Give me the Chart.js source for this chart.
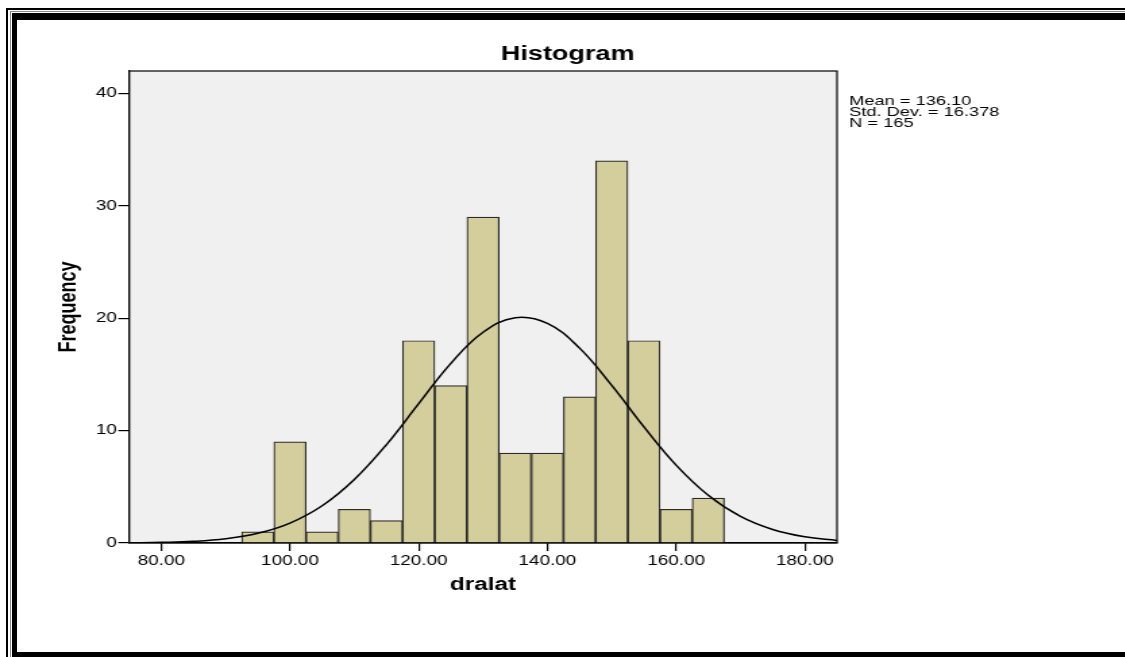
<!DOCTYPE html>
<html>
<head>
<meta charset="utf-8">
<script src="https://cdn.jsdelivr.net/npm/chart.js@4"></script>
<style>
  body { margin: 0; background: #fff; }
  #wrap { position: relative; width: 1125px; height: 657px; overflow: hidden; }
  #myChart { position: absolute; left: 0; top: 0; transform: scaleX(1.35); transform-origin: 0 0; }
  .ln { position: absolute; background: #000; }
</style>
</head>
<body>
<div id="wrap">
  <canvas id="myChart" width="833" height="657"></canvas>
  <div class="ln" style="left:6px;top:8px;width:1119px;height:2px"></div>
  <div class="ln" style="left:6px;top:8px;width:2px;height:649px"></div>
  <div class="ln" style="left:10px;top:11px;width:1115px;height:1px;background:#888"></div>
  <div class="ln" style="left:10px;top:11px;width:1px;height:646px;background:#888"></div>
  <div class="ln" style="left:12px;top:13px;width:1113px;height:7px"></div>
  <div class="ln" style="left:12px;top:13px;width:5px;height:644px"></div>
  <div class="ln" style="left:12px;top:652px;width:1113px;height:5px"></div>
</div>
<script>
// histogram bins (centres) and frequencies
let binX = [95, 100, 105, 110, 115, 120, 125, 130, 135, 140, 145, 150, 155, 160, 165];
let freq = [1, 9, 1, 3, 2, 18, 14, 29, 8, 8, 13, 34, 18, 3, 4];

// normal curve
let curveX = [75, 80, 85, 90, 95, 100, 105, 110, 115, 120, 125, 130, 135, 140, 145, 150, 155, 160, 165, 170, 175, 180, 185];
let curveY = [0.02, 0.06, 0.15, 0.38, 0.86, 1.77, 3.31, 5.65, 8.76, 12.4, 15.98, 18.75, 20.05, 19.54, 17.34, 14.02, 10.33, 6.93, 4.24, 2.36, 1.2, 0.55, 0.23];

let xTicks = [80, 100, 120, 140, 160, 180];
let yTicks = [0, 10, 20, 30, 40];
let stats = ["Mean = 136.10", "Std. Dev. = 16.378", "N = 165"];

const FONT = "'Liberation Sans', Arial, sans-serif";

const plotBox = {
  id: "plotBox",
  beforeDraw(chart) {
    const a = chart.chartArea;
    const ctx = chart.ctx;
    ctx.save();
    ctx.fillStyle = "#f0f0f0";
    ctx.fillRect(a.left, a.top, a.right - a.left, a.bottom - a.top);
    ctx.restore();
  },
  afterDraw(chart) {
    const a = chart.chartArea;
    const ctx = chart.ctx;
    ctx.save();
    ctx.strokeStyle = "#000";
    ctx.lineWidth = 1.2;
    ctx.strokeRect(a.left, a.top, a.right - a.left, a.bottom - a.top);
    ctx.fillStyle = "#000";
    ctx.font = "13.5px " + FONT;
    ctx.textBaseline = "middle";
    stats.forEach((s, i) => ctx.fillText(s, a.right + 9, 101 + i * 11));
    ctx.restore();
  },
};

const ctx = document.getElementById("myChart");
new Chart(ctx, {
  data: {
    datasets: [
      {
        type: "line",
        data: curveX.map((x, i) => ({ x: x, y: curveY[i] })),
        borderColor: "#000",
        borderWidth: 1.5,
        pointRadius: 0,
        tension: 0.4,
        fill: false,
        order: 0,
      },
      {
        type: "bar",
        data: binX.map((x, i) => ({ x: x, y: freq[i] })),
        backgroundColor: "#d3ce9b",
        borderColor: "#2b2b2b",
        borderWidth: 1.2,
        barPercentage: 1,
        categoryPercentage: 1,
        order: 1,
      },
    ],
  },
  options: {
    responsive: false,
    animation: false,
    layout: { padding: { left: 8, right: 0, top: 0, bottom: 44 } },
    plugins: {
      legend: { display: false },
      tooltip: { enabled: false },
      title: {
        display: true,
        text: "Histogram",
        color: "#000",
        font: { family: FONT, size: 20, weight: "bold" },
        padding: { top: 42, bottom: 5 },
      },
    },
    scales: {
      x: {
        type: "linear",
        min: 75,
        max: 185,
        offset: false,
        afterBuildTicks: (scale) => {
          scale.ticks = xTicks.map((v) => ({ value: v }));
        },
        afterFit: (scale) => {
          scale.height = 70;
        },
        ticks: {
          color: "#000",
          font: { family: FONT, size: 14 },
          padding: 2,
          maxRotation: 0,
          callback: (v) => Number(v).toFixed(2),
        },
        grid: { drawOnChartArea: false, offset: false, color: "#000", tickLength: 8, lineWidth: 1.2 },
        border: { color: "#000", width: 1.2 },
        title: {
          display: true,
          text: "dralat",
          color: "#000",
          font: { family: FONT, size: 18, weight: "bold" },
          padding: { top: 0, bottom: 17 },
        },
      },
      y: {
        min: 0,
        max: 42,
        afterBuildTicks: (scale) => {
          scale.ticks = yTicks.map((v) => ({ value: v }));
        },
        afterFit: (scale) => {
          scale.width = 87.6;
        },
        ticks: {
          color: "#000",
          font: { family: FONT, size: 14 },
          padding: 1,
        },
        grid: { drawOnChartArea: false, color: "#000", tickLength: 8, lineWidth: 1.2 },
        border: { color: "#000", width: 1.2 },
        title: {
          display: true,
          text: "Frequency",
          color: "#000",
          font: { family: FONT, size: 18, weight: "bold" },
          padding: { top: 32, bottom: 0 },
        },
      },
      // empty right-hand axis that holds the space for the statistics text
      side: {
        type: "linear",
        position: "right",
        display: true,
        afterFit: (scale) => {
          scale.width = 213;
        },
        ticks: { display: false },
        grid: { display: false },
        border: { display: false },
      },
    },
  },
  plugins: [plotBox],
});
</script>
</body>
</html>
